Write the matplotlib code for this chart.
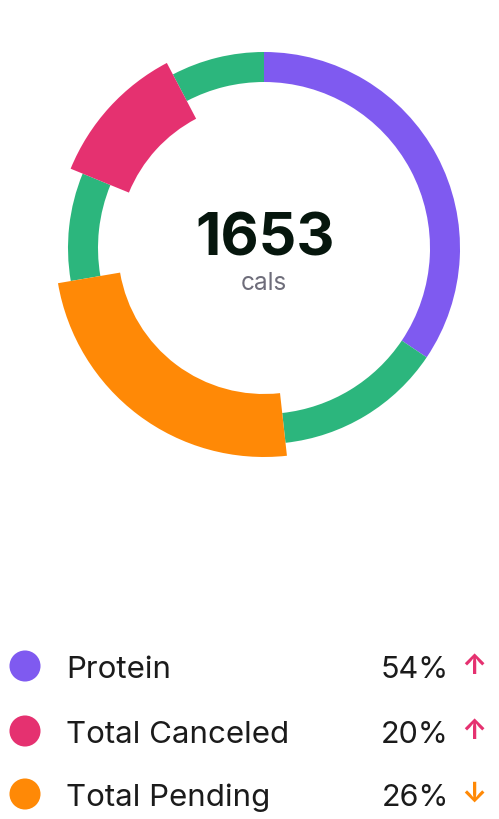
import matplotlib.pyplot as plt

# ring segments, clockwise from 12 o'clock (degrees)
seg_values = [123.9, 49.8, 86.6, 32.0, 40.0, 27.7]
seg_colors = ['#7f5af0', '#2cb67d', '#ff8906', '#2cb67d', '#e53170', '#2cb67d']
seg_thick = [False, False, True, False, True, False]

total_value = '1653'
total_unit = 'cals'

labels = ['Protein', 'Total Canceled', 'Total Pending']
shares = ['54%', '20%', '26%']
dot_colors = ['#7f5af0', '#e53170', '#ff8906']
trend = ['up', 'up', 'down']
trend_colors = ['#e53170', '#e53170', '#ff8906']

plt.rcParams['font.family'] = ['Inter', 'DejaVu Sans']

fig = plt.figure(figsize=(4.99, 8.19), dpi=100)
ax = fig.add_axes([0, 0, 1, 1])

# y axis runs downwards (pixel-like), so data-ccw is screen clockwise
wedges, _ = ax.pie(seg_values, colors=seg_colors, startangle=-90, counterclock=True,
                   center=(264, 248), radius=196,
                   wedgeprops=dict(width=30, linewidth=0))
for w, thick in zip(wedges, seg_thick):
    if thick:
        w.set_radius(209)
        w.set_width(63)
        w.set_zorder(3)

ax.text(265, 255, total_value, ha='center', va='baseline', fontsize=42.5,
        fontweight='bold', color='#06160d')
ax.text(264, 290, total_unit, ha='center', va='baseline', fontsize=17.5,
        color='#6e6d7a')

rows_y = [678, 743, 806]
ax.scatter([25] * len(labels), [y - 12 for y in rows_y], s=500, c=dot_colors,
           linewidths=0, zorder=3)
for i in range(len(labels)):
    y = rows_y[i]
    ax.text(66, y, labels[i], ha='left', va='baseline', fontsize=22.5, color='#1b1b1b')
    ax.text(449, y, shares[i], ha='right', va='baseline', fontsize=22, color='#1b1b1b')
    arrow = '\u2191' if trend[i] == 'up' else '\u2193'
    ax.text(474, y - 11, arrow, ha='center', va='center', fontsize=20,
            fontweight='bold', color=trend_colors[i])

ax.set_xlim(0, 499)
ax.set_ylim(819, 0)
ax.set_aspect('equal')
ax.axis('off')

plt.savefig('out.png', dpi=100)
